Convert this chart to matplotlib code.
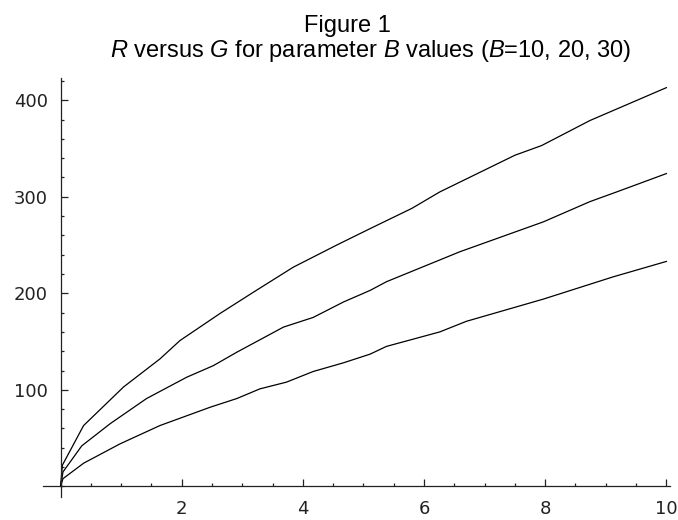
import matplotlib.pyplot as plt
from matplotlib.ticker import MultipleLocator, FixedLocator

# curves (G on x, R on y)
g_b30 = [0, 0.03, 0.38, 1.04, 1.64, 1.97, 2.63, 3.18, 3.84, 4.56, 5.11, 5.80, 6.26, 7.50, 7.94, 8.74, 10.0]
r_b30 = [0, 22, 63, 103, 132, 151, 179, 201, 227, 250, 267, 288, 305, 343, 353, 379, 413]

g_b20 = [0, 0.04, 0.35, 0.82, 1.42, 2.08, 2.52, 2.91, 3.68, 4.17, 4.67, 5.11, 5.38, 6.59, 7.97, 8.74, 9.18, 10.0]
r_b20 = [0, 15, 42, 65, 91, 113, 125, 139, 165, 175, 191, 203, 212, 243, 274, 295, 305, 324]

g_b10 = [0, 0.04, 0.38, 0.98, 1.64, 2.47, 2.91, 3.29, 3.73, 4.17, 4.67, 5.11, 5.38, 6.26, 6.70, 7.97, 9.12, 10.0]
r_b10 = [0, 8, 24, 44, 63, 82, 91, 101, 108, 119, 128, 137, 145, 160, 171, 194, 217, 233]

x_ticks = [2, 4, 6, 8, 10]
y_ticks = [100, 200, 300, 400]

plt.rcParams['mathtext.fontset'] = 'custom'
plt.rcParams['mathtext.rm'] = 'Liberation Sans'
plt.rcParams['mathtext.it'] = 'Liberation Sans:italic'

fig = plt.figure(figsize=(6.78, 5.2), dpi=100)
ax = fig.add_axes([43/678, 23/520, 627/678, 419/520])

for g, r in [(g_b30, r_b30), (g_b20, r_b20), (g_b10, r_b10)]:
    ax.plot(g, r, color='black', lw=0.9)

ax.set_xlim(-0.29, 10.06)
ax.set_ylim(-11, 423)

ax.spines['left'].set_position(('data', 0))
ax.spines['bottom'].set_position(('data', 0))
ax.spines['top'].set_visible(False)
ax.spines['right'].set_visible(False)
for s in ['left', 'bottom']:
    ax.spines[s].set_linewidth(0.9)
    ax.spines[s].set_color('#222222')

ax.xaxis.set_major_locator(FixedLocator(x_ticks))
ax.xaxis.set_minor_locator(MultipleLocator(0.5))
ax.yaxis.set_major_locator(FixedLocator(y_ticks))
ax.yaxis.set_minor_locator(MultipleLocator(20))
ax.tick_params(which='both', direction='in', width=0.9, color='#222222',
               labelsize=13, labelcolor='#222222')
ax.tick_params(which='major', length=5)
ax.tick_params(which='minor', length=2.5)
ax.tick_params(axis='x', which='major', pad=10)
ax.tick_params(axis='y', which='major', pad=9)

fig.text(304/678, 1 - 32/520, 'Figure 1', ha='left', va='baseline',
         fontsize=17, family='Liberation Sans')
fig.text(110/678, 1 - 57/520,
         r'$\mathit{R}$ versus $\mathit{G}$ for parameter $\mathit{B}$ values ($\mathit{B}$=10, 20, 30)',
         ha='left', va='baseline', fontsize=17, family='Liberation Sans')

fig.savefig('out.png', dpi=100)
